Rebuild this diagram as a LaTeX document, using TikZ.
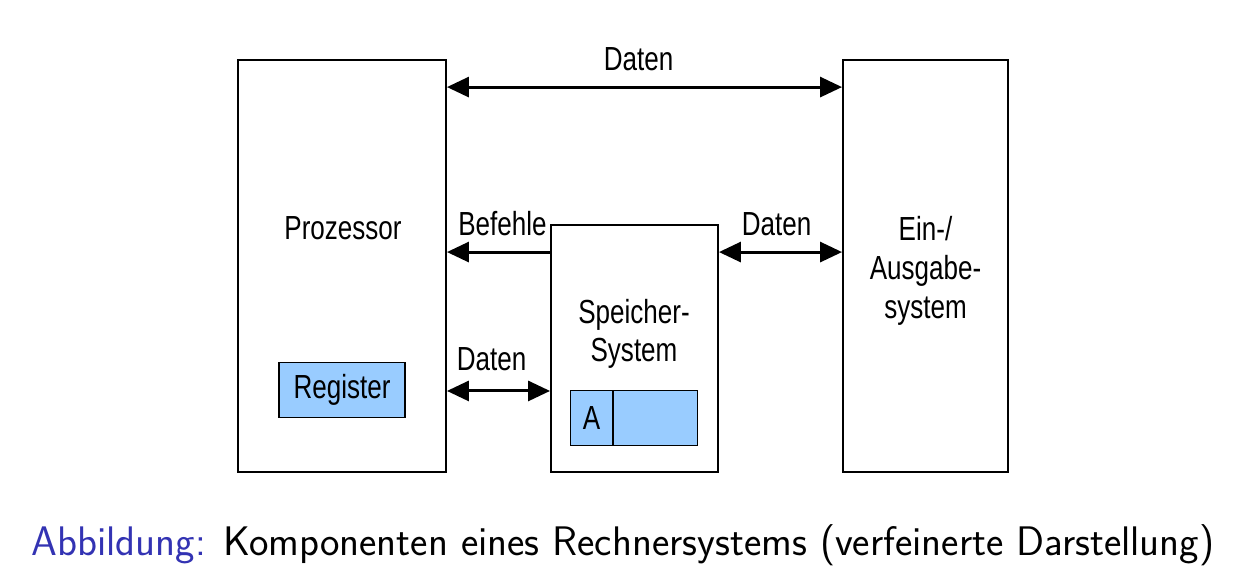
\documentclass[tikz,border=0pt]{standalone}
\usepackage{fontspec}
\newfontfamily\diafont[FakeStretch=0.78]{Liberation Sans}
\usetikzlibrary{positioning,arrows.meta}
\definecolor{regblue}{HTML}{99CCFF}
\definecolor{capblue}{HTML}{3333B3}

\begin{document}
\begin{tikzpicture}[
    x=0.02cm, y=-0.02cm,
    >={Triangle[length=4.4mm,width=4mm]},
    every node/.style={font=\diafont\fontsize{19}{22}\selectfont},
    unit/.style={draw,line width=1.1pt,minimum height=8.24cm,inner sep=0pt},
    cell/.style={draw,fill=regblue,line width=0.6pt,minimum height=1.1cm,inner sep=0pt},
    link/.style={line width=1.7pt}
]
\useasboundingbox (0,0) rectangle (1240,579);

% Processor and I/O system
\node[unit,minimum width=4.16cm] (cpu) at (342,266) {};
\node[unit,minimum width=3.30cm] (io)  at (925.5,266) {};
\node (cputext) at (343,228) {Prozessor};
\node[align=center] (iotext) at ([yshift=-0.1cm]io) {Ein-/\\Ausgabe-\\system};

% Memory system
\node[unit,minimum width=3.34cm,minimum height=4.94cm] (mem) at (634.5,348.5) {};
\node[align=center] (memtext) at (634,334) {Speicher-\\System};

% Register and memory cell
\node[cell,minimum width=2.52cm,above=1.1cm of cpu.south] (reg) {Register};
\node[cell,minimum width=0.84cm,above right=0.54cm and 0.4cm of mem.south west] (acell) {A};
\node[cell,minimum width=1.68cm,right=0pt of acell] (arest) {};

% Connections
\coordinate (topdat) at ([yshift=-0.56cm]cpu.north east);
\coordinate (befehl) at ([yshift=-0.56cm]mem.north west);
\coordinate (lowdat) at ([yshift=1.64cm]mem.south west);

\draw[link,<->] (topdat) -- (topdat -| io.west) node[midway,above=5pt,xshift=-0.12cm] (d1) {Daten};
\draw[link,->]  (befehl) -- (befehl -| cpu.east) node[midway,above=5pt,xshift=0.08cm] (bef) {Befehle};
\draw[link,<->] (befehl -| mem.east) -- (befehl -| io.west) node[midway,above=5pt,xshift=-0.08cm] (d2) {Daten};
\draw[link,<->] (lowdat -| cpu.east) -- (lowdat) node[midway,above=7pt,xshift=-0.14cm] (d3) {Daten};

% Caption
\node (cap) at (623,545) {\sffamily\fontsize{23.5}{27}\selectfont\textcolor{capblue}{Abbildung:} Komponenten eines Rechnersystems (verfeinerte Darstellung)};

\end{tikzpicture}
\end{document}
